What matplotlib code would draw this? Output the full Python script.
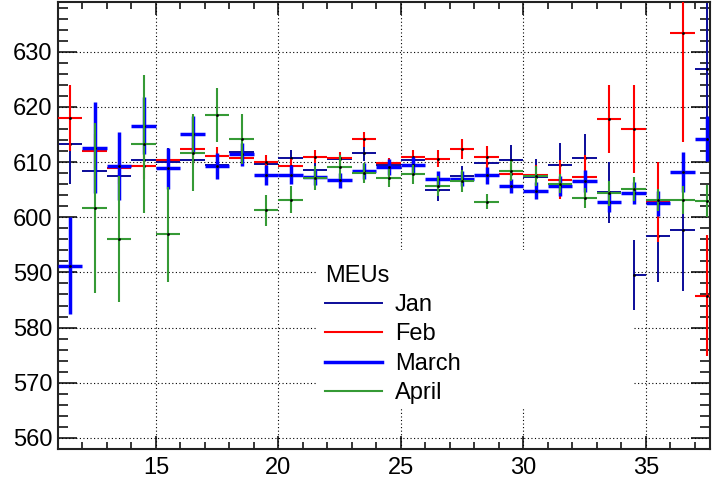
import numpy as np
import matplotlib
matplotlib.use("Agg")
import matplotlib.pyplot as plt
from matplotlib.lines import Line2D
from matplotlib.patches import Rectangle
from matplotlib.ticker import MultipleLocator

plt.rcParams['font.family'] = ['Liberation Sans', 'DejaVu Sans']

# bin centres (unit-width bins)
bins = np.arange(11.5, 38.0, 1.0)

jan = [613.3, 608.3, 607.4, 610.3, 610.0, 610.4, 609.5, 611.8, 609.6, 610.7,
       608.5, 610.5, 611.6, 609.5, 610.3, 604.9, 607.4, 609.8, 610.4, 607.3,
       609.4, 610.8, 604.5, 589.5, 596.6, 597.7, 626.9]
jan_err = [7.3, 6.0, 4.0, 3.0, 2.5, 3.0, 2.0, 1.5, 1.5, 1.5,
           1.5, 1.3, 1.5, 1.2, 1.2, 1.9, 1.8, 1.8, 2.7, 3.3,
           4.0, 4.3, 5.5, 6.3, 8.3, 11.0, 16.9]

feb = [618.0, 612.0, 609.0, 609.2, 610.3, 612.4, 611.1, 610.8, 610.0, 609.2,
       611.0, 610.7, 614.1, 609.8, 610.9, 610.6, 612.4, 610.9, 607.9, 607.6,
       606.8, 607.3, 617.8, 616.0, 602.8, 633.3, 585.8]
feb_err = [6.0, 3.0, 3.0, 2.3, 2.0, 3.0, 1.6, 1.5, 1.2, 1.4,
           1.2, 1.2, 1.4, 1.0, 1.3, 1.5, 1.8, 2.0, 1.8, 1.8,
           3.5, 3.9, 6.1, 7.9, 7.2, 19.6, 11.0]

march = [591.2, 612.6, 609.3, 616.6, 608.9, 615.0, 609.3, 611.4, 607.6, 607.7,
         607.3, 606.7, 608.4, 609.1, 609.5, 606.9, 607.0, 607.6, 605.6, 604.8,
         605.6, 606.6, 602.8, 604.4, 602.5, 608.2, 614.2]
march_err = [8.8, 8.2, 6.1, 5.1, 3.7, 3.4, 2.3, 2.1, 1.8, 1.7,
             1.5, 1.4, 1.5, 1.5, 1.5, 1.4, 1.3, 1.5, 1.3, 1.5,
             1.8, 2.0, 1.8, 2.0, 2.3, 3.6, 4.1]

april = [np.nan, 601.6, 596.0, 613.3, 596.9, 611.7, 618.6, 614.2, 601.3, 603.2,
         607.1, 609.1, 608.0, 607.1, 607.8, 605.6, 606.5, 602.8, 608.4, 607.4,
         606.1, 603.5, 604.3, 605.1, 603.2, 603.1, 602.9]
april_err = [np.nan, 15.4, 11.4, 12.5, 8.6, 7.0, 4.9, 4.5, 2.8, 2.4,
             2.2, 2.1, 1.8, 1.7, 1.7, 1.8, 2.0, 1.4, 1.8, 1.8,
             1.8, 1.8, 2.2, 2.2, 2.0, 2.6, 2.9]

series = [
    ("Jan", jan, jan_err, "#0b0b99", 1.4),
    ("Feb", feb, feb_err, "#ff0000", 1.5),
    ("March", march, march_err, "#0000ff", 2.5),
    ("April", april, april_err, "#359a35", 1.5),
]

fig = plt.figure(figsize=(7.12, 4.82), dpi=100)
ax = fig.add_axes([58 / 712, 33 / 482, 652 / 712, 447 / 482])

handles = []
for i, (name, vals, errs, col, lw) in enumerate(series):
    ax.errorbar(bins, vals, xerr=0.5, yerr=errs, fmt='none', ecolor=col,
                elinewidth=lw, capsize=0, zorder=2 + i)
    ax.plot(bins, vals, linestyle='none', marker='s', markersize=0.9,
            color='black', zorder=2 + i)
    handles.append(Line2D([0], [0], color=col, lw=lw))

ax.set_xlim(11, 37.62)
ax.set_ylim(558, 639)

ax.xaxis.set_major_locator(MultipleLocator(5))
ax.xaxis.set_minor_locator(MultipleLocator(1))
ax.yaxis.set_major_locator(MultipleLocator(10))
ax.yaxis.set_minor_locator(MultipleLocator(2))

ax.grid(True, which='major', color='black', linestyle=(0, (1, 2.2)), linewidth=0.8)
ax.set_axisbelow(True)

ax.tick_params(axis='both', which='both', direction='in', top=True, right=True,
               labelsize=17, colors='black')
ax.tick_params(axis='x', which='major', length=9.6, width=1.1, pad=6)
ax.tick_params(axis='x', which='minor', length=4.8, width=1.1)
ax.tick_params(axis='y', which='major', length=14, width=1.1, pad=4)
ax.tick_params(axis='y', which='minor', length=7, width=1.1)
for s in ax.spines.values():
    s.set_linewidth(1.5)
    s.set_color('#222222')

# legend background box
ax.add_patch(Rectangle((0.399, 0.094), 0.483, 0.351, transform=ax.transAxes,
                       facecolor='white', edgecolor='none', zorder=10))
leg = ax.legend(handles, [s[0] for s in series], title="MEUs",
                loc='upper left', bbox_to_anchor=(0.41, 0.412),
                frameon=False, fontsize=17, title_fontsize=17,
                alignment='left', handlelength=2.4, handletextpad=0.55,
                labelspacing=0.31, borderpad=0.0, borderaxespad=0.0)
leg.set_zorder(11)

fig.savefig("out.png", dpi=100)
